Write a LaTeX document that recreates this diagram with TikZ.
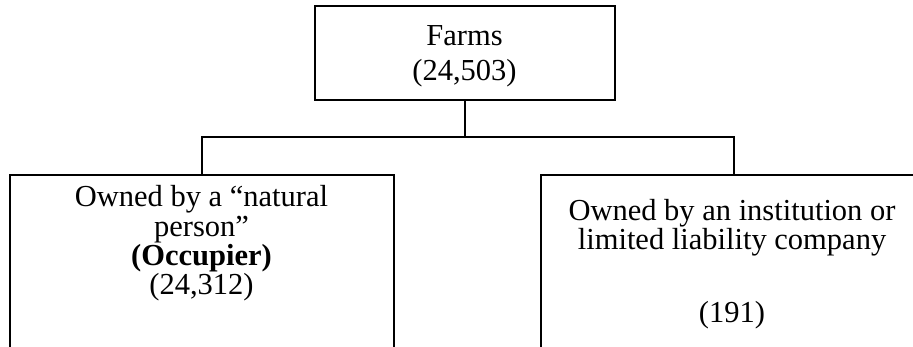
\documentclass[tikz,border=0pt]{standalone}
\usepackage{fontspec}
\setmainfont{Liberation Serif}
\begin{document}
\begin{tikzpicture}[x=1pt,y=-1pt,
  boxstyle/.style={draw=black,line width=1.7pt,rectangle,inner sep=0pt,anchor=north west},
  linkstyle/.style={draw=black,line width=1.7pt},
  txt/.style={anchor=base,inner sep=0pt,font=\fontsize{30.5}{29.5}\selectfont}]
\useasboundingbox (0,0) rectangle (913,346);
\clip (0,0) rectangle (913,346);
\fill[white] (0,0) rectangle (913,346);
% boxes
\node[boxstyle,minimum width=300pt,minimum height=94pt] (top) at (314,5) {};
\node[boxstyle,minimum width=384pt,minimum height=200pt] (left) at (9,174) {};
\node[boxstyle,minimum width=386pt,minimum height=200pt] (right) at (540,174) {};
% connectors
\coordinate (bar) at (463,137);
\draw[linkstyle] (top.south) -- (top.south |- bar);
\draw[linkstyle] (left.north) -- (left.north |- bar) -- (right.north |- bar) -- (right.north);
% texts
\node[txt] (t1) at (464.5,45) {Farms};
\node[txt] (t2) at (464.5,80) {(24,503)};
\node[txt] (l1) at (201.5,206) {Owned by a “natural};
\node[txt] (l2) at (201.5,236) {person”};
\node[txt] (l3) at (201.5,265) {\textbf{(Occupier)}};
\node[txt] (l4) at (201.5,294) {(24,312)};
\node[txt] (r1) at (732,220) {Owned by an institution or};
\node[txt] (r2) at (732,249) {limited liability company};
\node[txt] (r3) at (732,322) {(191)};
\end{tikzpicture}
\end{document}
